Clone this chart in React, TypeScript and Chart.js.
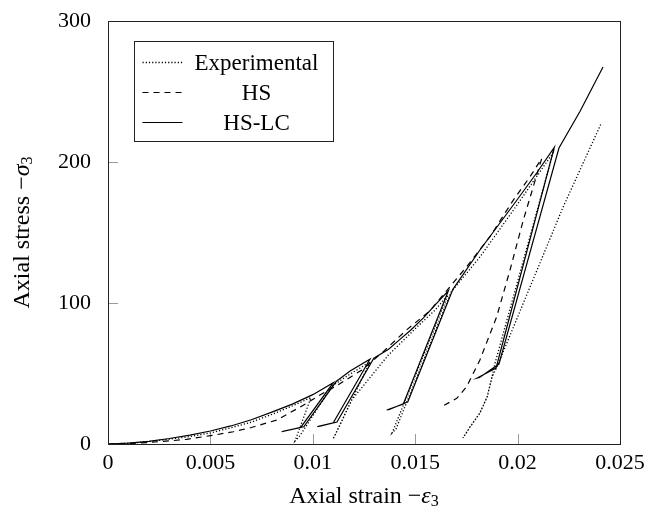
import React, { useEffect, useRef } from "react";
import { Chart, registerables } from "chart.js";

Chart.register(...registerables);

// Axis ticks
const xTickValues = [0, 0.005, 0.01, 0.015, 0.02, 0.025];
const xTickLabels = ["0", "0.005", "0.01", "0.015", "0.02", "0.025"];
const yTickValues = [0, 100, 200, 300];
const yTickLabels = ["0", "100", "200", "300"];

// Experimental cyclic triaxial path (strain, stress)
const expStrain = [
  0, 0.00122, 0.00288, 0.004, 0.00498, 0.006, 0.007, 0.008, 0.009, 0.00954, 0.00991,
  0.00913, 0.00933, 0.01094, 0.01182, 0.01279,
  0.01099, 0.01133, 0.0119, 0.01369, 0.01509, 0.01597, 0.0166,
  0.01387, 0.01406, 0.01675, 0.01816, 0.01987, 0.02173,
  0.0189, 0.01875, 0.01851, 0.01816, 0.01768, 0.01733,
  0.01768, 0.01816, 0.01851, 0.01875, 0.01899, 0.02222, 0.02407,
];
const expStress = [
  0, 0.7, 3.2, 5.3, 7.8, 11.5, 15.5, 21.0, 27.0, 30.5, 33.0,
  2.1, 5.0, 41.1, 49.6, 58.2,
  3.5, 13.5, 31.2, 63.1, 83.0, 95.0, 105.7,
  7.8, 10.6, 107.8, 132.6, 167.4, 206.5,
  57.4, 47.5, 33.3, 22.0, 12.1, 4.3,
  12.1, 22.0, 33.3, 47.5, 54.6, 168.0, 227.0,
];

// HS model
const hsStrain = [
  0, 0.001, 0.002, 0.003, 0.00384, 0.005, 0.00612, 0.007, 0.00824, 0.00889, 0.0097,
  0.01035, 0.01108, 0.0124, 0.01344, 0.01458, 0.01572, 0.0167, 0.01751, 0.01865,
  0.01979, 0.02061, 0.02118,
  0.02028, 0.01963, 0.01898, 0.01816, 0.01751, 0.01703, 0.01629,
];
const hsStress = [
  0, 0.3, 1.1, 2.2, 3.3, 5.9, 8.7, 11.7, 17.0, 22.2, 28.9,
  34.8, 40.6, 52.5, 65.5, 80.9, 94.5, 111.6, 125.7, 147.0,
  173.0, 189.6, 202.6,
  158.9, 123.4, 90.3, 59.6, 40.6, 32.4, 26.5,
];

// HS-LC model
const lcStrain = [
  0, 0.001, 0.002, 0.003, 0.004, 0.005, 0.006, 0.007, 0.008, 0.009, 0.01, 0.011,
  0.00941, 0.00848, 0.00859, 0.00956, 0.01114, 0.01182, 0.01279,
  0.011, 0.01022, 0.01035, 0.01118, 0.01298, 0.0137, 0.0142, 0.0148, 0.0154, 0.016, 0.01662,
  0.01442, 0.01361, 0.01374, 0.01464, 0.01684, 0.01816, 0.01979, 0.02093, 0.02179,
  0.01895, 0.01802, 0.01814, 0.01909, 0.02202, 0.02305, 0.02417,
];
const lcStress = [
  0, 0.6, 1.9, 3.9, 6.3, 9.2, 12.8, 17.2, 22.6, 28.3, 35.0, 43.5,
  11.8, 8.7, 9.1, 12.2, 44.3, 51.8, 60.1,
  15.1, 12.3, 12.6, 15.6, 60.8, 67.2, 73.5, 81.0, 89.5, 99.0, 108.7,
  28.4, 24.1, 24.5, 30.0, 109.7, 137.6, 169.5, 192.2, 210.4,
  53.9, 46.8, 47.2, 56.7, 209.9, 236.0, 267.4,
];

const SERIF = "'Liberation Serif', 'Times New Roman', serif";

const toPoints = (xs: number[], ys: number[]) => xs.map((x, i) => ({ x, y: ys[i] }));

type Piece = { t: string; font: string; dy?: number };

function drawPieces(ctx: CanvasRenderingContext2D, pieces: Piece[], cx: number, cy: number) {
  let total = 0;
  for (const p of pieces) {
    ctx.font = p.font;
    total += ctx.measureText(p.t).width;
  }
  let x = cx - total / 2;
  ctx.textBaseline = "middle";
  ctx.textAlign = "left";
  for (const p of pieces) {
    ctx.font = p.font;
    ctx.fillText(p.t, x, cy + (p.dy || 0));
    x += ctx.measureText(p.t).width;
  }
}

const framePlugin = {
  id: "frameAndTicks",
  beforeDatasetsDraw(chart: any) {
    const { ctx, chartArea, scales } = chart;
    ctx.save();
    ctx.strokeStyle = "#9a9a9a";
    ctx.lineWidth = 1;
    for (const v of xTickValues) {
      const px = Math.round(scales.x.getPixelForValue(v)) + 0.5;
      ctx.beginPath();
      ctx.moveTo(px, chartArea.bottom);
      ctx.lineTo(px, chartArea.bottom - 10);
      ctx.stroke();
    }
    for (const v of yTickValues) {
      const py = Math.round(scales.y.getPixelForValue(v)) + 0.5;
      ctx.beginPath();
      ctx.moveTo(chartArea.left, py);
      ctx.lineTo(chartArea.left + 10, py);
      ctx.stroke();
    }
    ctx.restore();
  },
  afterDraw(chart: any) {
    const { ctx, chartArea } = chart;
    ctx.save();
    // axis frame
    ctx.strokeStyle = "#222";
    ctx.lineWidth = 1;
    ctx.strokeRect(
      Math.round(chartArea.left) + 0.5,
      Math.round(chartArea.top) + 0.5,
      Math.round(chartArea.right - chartArea.left),
      Math.round(chartArea.bottom - chartArea.top)
    );

    // legend box
    const bx = Math.round(chartArea.left) + 26.5;
    const by = Math.round(chartArea.top) + 20.5;
    const bw = 199;
    const bh = 100;
    ctx.fillStyle = "#fff";
    ctx.fillRect(bx, by, bw, bh);
    ctx.strokeStyle = "#222";
    ctx.strokeRect(bx, by, bw, bh);
    ctx.fillStyle = "#000";
    chart.data.datasets.forEach((ds: any, i: number) => {
      const ry = by + 21 + i * 30;
      ctx.save();
      ctx.strokeStyle = ds.borderColor;
      ctx.lineWidth = ds.borderWidth;
      ctx.setLineDash(ds.borderDash || []);
      ctx.beginPath();
      ctx.moveTo(bx + 8, ry);
      ctx.lineTo(bx + 48, ry);
      ctx.stroke();
      ctx.restore();
      ctx.font = `23px ${SERIF}`;
      ctx.textAlign = "center";
      ctx.textBaseline = "middle";
      ctx.fillText(ds.label, bx + 122, ry + 1);
    });

    // axis titles
    ctx.fillStyle = "#000";
    const xc = (chartArea.left + chartArea.right) / 2;
    drawPieces(
      ctx,
      [
        { t: "Axial strain ", font: `24px ${SERIF}` },
        { t: "\u2212", font: `24px ${SERIF}` },
        { t: "\u03b5", font: `italic 24px ${SERIF}` },
        { t: "3", font: `16px ${SERIF}`, dy: 5 },
      ],
      xc,
      497
    );
    const yc = (chartArea.top + chartArea.bottom) / 2;
    ctx.save();
    ctx.translate(23, yc);
    ctx.rotate(-Math.PI / 2);
    drawPieces(
      ctx,
      [
        { t: "Axial stress ", font: `24px ${SERIF}` },
        { t: "\u2212", font: `24px ${SERIF}` },
        { t: "\u03c3", font: `italic 24px ${SERIF}` },
        { t: "3", font: `16px ${SERIF}`, dy: 5 },
      ],
      0,
      0
    );
    ctx.restore();
    ctx.restore();
  },
};

export default function App() {
  const canvasRef = useRef<HTMLCanvasElement | null>(null);

  useEffect(() => {
    document.body.style.margin = "0";
    const canvas = canvasRef.current;
    if (!canvas) return;
    const chart = new Chart(canvas, {
      type: "line",
      data: {
        datasets: [
          {
            label: "Experimental",
            data: toPoints(expStrain, expStress),
            borderColor: "#000",
            borderWidth: 1.3,
            borderDash: [1.2, 2],
            pointRadius: 0,
            tension: 0,
          },
          {
            label: "HS",
            data: toPoints(hsStrain, hsStress),
            borderColor: "#000",
            borderWidth: 1.2,
            borderDash: [6, 5],
            pointRadius: 0,
            tension: 0,
          },
          {
            label: "HS-LC",
            data: toPoints(lcStrain, lcStress),
            borderColor: "#000",
            borderWidth: 1.2,
            pointRadius: 0,
            tension: 0,
          },
        ],
      },
      options: {
        animation: false,
        responsive: false,
        devicePixelRatio: 1,
        parsing: false,
        layout: { padding: { left: 30, right: 29, top: 21, bottom: 36 } },
        plugins: { legend: { display: false }, tooltip: { enabled: false } },
        scales: {
          x: {
            type: "linear",
            min: 0,
            max: 0.025,
            afterBuildTicks: (s: any) => {
              s.ticks = xTickValues.map((v) => ({ value: v }));
            },
            afterFit: (s: any) => {
              s.height = 34;
              s.paddingLeft = 0;
              s.paddingRight = 0;
              s.paddingTop = 0;
              s.paddingBottom = 0;
            },
            ticks: {
              callback: (_v: any, i: number) => xTickLabels[i],
              font: { family: SERIF, size: 22 },
              color: "#000",
              padding: 6,
              maxRotation: 0,
              autoSkip: false,
            },
            grid: { display: false, drawTicks: false },
            border: { display: false },
          },
          y: {
            type: "linear",
            min: 0,
            max: 300,
            afterBuildTicks: (s: any) => {
              s.ticks = yTickValues.map((v) => ({ value: v }));
            },
            afterFit: (s: any) => {
              s.width = 78;
              s.paddingLeft = 0;
              s.paddingRight = 0;
              s.paddingTop = 0;
              s.paddingBottom = 0;
            },
            ticks: {
              callback: (_v: any, i: number) => yTickLabels[i],
              font: { family: SERIF, size: 22 },
              color: "#000",
              padding: 17,
              autoSkip: false,
            },
            grid: { display: false, drawTicks: false },
            border: { display: false },
          },
        },
      },
      plugins: [framePlugin],
    } as any);
    return () => chart.destroy();
  }, []);

  return <canvas ref={canvasRef} width={649} height={514} style={{ display: "block" }} />;
}
